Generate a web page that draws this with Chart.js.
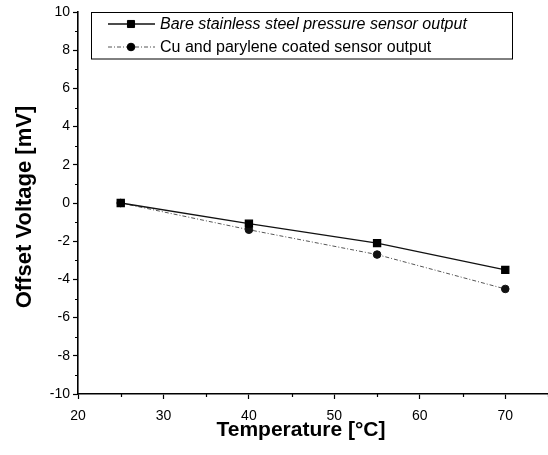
<!DOCTYPE html>
<html>
<head>
<meta charset="utf-8">
<script src="https://cdn.jsdelivr.net/npm/chart.js@4.4.1/dist/chart.umd.min.js"></script>
<style>
  html, body { margin: 0; padding: 0; background: #fff; }
  #wrap { width: 548px; height: 455px; }
</style>
</head>
<body>
<div id="wrap"><canvas id="chart"></canvas></div>
<script>
// Data
const temps = [25, 40, 55, 70];
const bareOffset = [0, -1.08, -2.1, -3.5];
const coatedOffset = [0, -1.4, -2.7, -4.5];
const xTicks = [20, 30, 40, 50, 60, 70];
const xMinor = [25, 35, 45, 55, 65, 75];
const yMinor = [-9, -7, -5, -3, -1, 1, 3, 5, 7, 9];

const seriesLabels = [
    'Bare stainless steel pressure sensor output',
    'Cu and parylene coated sensor output'
];

// Minor ticks, axis titles and the boxed legend inside the plot
const extras = {
    id: 'extras',
    afterDraw(chart) {
        const ctx = chart.ctx;
        const xs = chart.scales.x, ys = chart.scales.y;
        const area = chart.chartArea;
        ctx.save();
        ctx.strokeStyle = '#000';
        ctx.lineWidth = 1.2;
        ctx.beginPath();
        xMinor.forEach((v) => {
            let px = Math.round(xs.getPixelForValue(v)) + 0.5;
            ctx.moveTo(px, area.bottom);
            ctx.lineTo(px, area.bottom + 3);
        });
        yMinor.forEach((v) => {
            let py = Math.round(ys.getPixelForValue(v)) + 0.5;
            ctx.moveTo(area.left, py);
            ctx.lineTo(area.left - 3, py);
        });
        ctx.stroke();

        // Axis titles
        ctx.fillStyle = '#000';
        ctx.textAlign = 'center';
        ctx.textBaseline = 'middle';
        ctx.font = 'bold 21px "Liberation Sans", Arial, sans-serif';
        ctx.fillText('Temperature [\u00B0C]', 301, 430);
        ctx.save();
        ctx.translate(25, 207);
        ctx.rotate(-Math.PI / 2);
        ctx.font = 'bold 22px "Liberation Sans", Arial, sans-serif';
        ctx.fillText('Offset Voltage [mV]', 0, 0);
        ctx.restore();

        // Legend box
        ctx.lineWidth = 1;
        ctx.strokeRect(91.5, 12.5, 421, 46.5);
        const rows = [24, 47];
        chart.data.datasets.forEach((ds, i) => {
            let y = rows[i];
            ctx.save();
            ctx.strokeStyle = ds.borderColor;
            ctx.lineWidth = ds.borderWidth;
            ctx.setLineDash(ds.borderDash || []);
            ctx.beginPath();
            ctx.moveTo(108, y);
            ctx.lineTo(155, y);
            ctx.stroke();
            ctx.restore();
            Chart.helpers.drawPoint(ctx, {
                pointStyle: ds.pointStyle,
                radius: ds.pointRadius,
                borderWidth: 1
            }, 131, y);
            ctx.fillStyle = '#000';
            ctx.textAlign = 'left';
            ctx.font = (i == 0 ? 'italic ' : '') + '16px "Liberation Sans", Arial, sans-serif';
            ctx.fillText(seriesLabels[i], 160, y + 1);
        });
        ctx.restore();
    }
};

const cfg = {
    type: 'line',
    data: {
        datasets: [
            {
                label: seriesLabels[0],
                data: temps.map((t, i) => ({ x: t, y: bareOffset[i] })),
                borderColor: '#111',
                backgroundColor: '#111',
                borderWidth: 1.3,
                pointStyle: 'rect',
                pointRadius: 5,
                pointBackgroundColor: '#000',
                pointBorderColor: '#000',
                tension: 0
            },
            {
                label: seriesLabels[1],
                data: temps.map((t, i) => ({ x: t, y: coatedOffset[i] })),
                borderColor: '#555',
                backgroundColor: '#111',
                borderWidth: 1,
                borderDash: [4, 2, 1, 2],
                pointStyle: 'circle',
                pointRadius: 3.8,
                pointBackgroundColor: '#111',
                pointBorderColor: '#111',
                tension: 0
            }
        ]
    },
    options: {
        responsive: true,
        maintainAspectRatio: false,
        animation: false,
        layout: {
            autoPadding: false,
            padding: { top: 12, right: 0, left: 0, bottom: 0 }
        },
        plugins: {
            legend: { display: false },
            tooltip: { enabled: false }
        },
        scales: {
            x: {
                type: 'linear',
                min: 20,
                max: 75,
                afterBuildTicks: (scale) => {
                    scale.ticks = xTicks.map((v) => ({ value: v }));
                },
                afterFit: (scale) => {
                    scale.height = 61;
                    scale.paddingRight = 0;
                },
                grid: {
                    drawOnChartArea: false,
                    drawTicks: true,
                    tickLength: 5,
                    tickColor: '#000',
                    tickWidth: 1.2
                },
                border: { display: true, color: '#000', width: 1.6 },
                ticks: {
                    color: '#000',
                    padding: 9,
                    maxRotation: 0,
                    font: { family: '"Liberation Sans", Arial, sans-serif', size: 14 }
                }
            },
            y: {
                type: 'linear',
                min: -10,
                max: 10,
                afterFit: (scale) => { scale.width = 78; },
                grid: {
                    drawOnChartArea: false,
                    drawTicks: true,
                    tickLength: 5,
                    tickColor: '#000',
                    tickWidth: 1.2
                },
                border: { display: true, color: '#000', width: 1.6 },
                ticks: {
                    stepSize: 2,
                    color: '#000',
                    padding: 3,
                    font: { family: '"Liberation Sans", Arial, sans-serif', size: 14 }
                }
            }
        }
    },
    plugins: [extras]
};

document.addEventListener('DOMContentLoaded', () => {
    new Chart(document.getElementById('chart'), cfg);
});
</script>
</body>
</html>
